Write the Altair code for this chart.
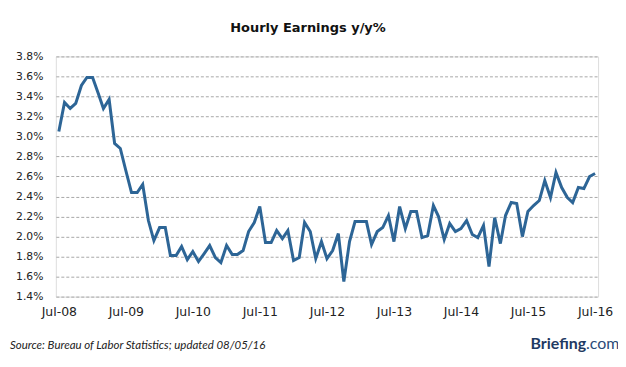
import altair as alt
import pandas as pd

start_month = "2008-07-01"
values = [
    3.05, 3.34, 3.28, 3.33, 3.51, 3.59, 3.59, 3.43, 3.28, 3.37, 2.93, 2.88,   # Jul-08..Jun-09
    2.66, 2.44, 2.44, 2.52, 2.16, 1.96, 2.09, 2.09, 1.81, 1.81, 1.90, 1.77,   # Jul-09..Jun-10
    1.85, 1.75, 1.83, 1.91, 1.79, 1.74, 1.91, 1.82, 1.82, 1.86, 2.05, 2.14,   # Jul-10..Jun-11
    2.30, 1.94, 1.94, 2.06, 1.98, 2.06, 1.76, 1.79, 2.14, 2.05, 1.78, 1.95,   # Jul-11..Jun-12
    1.78, 1.86, 2.03, 1.55, 1.95, 2.15, 2.15, 2.15, 1.92, 2.05, 2.09, 2.21,   # Jul-12..Jun-13
    1.95, 2.30, 2.08, 2.25, 2.25, 1.99, 2.01, 2.31, 2.20, 1.97, 2.13, 2.05,   # Jul-13..Jun-14
    2.08, 2.16, 2.02, 1.99, 2.11, 1.70, 2.19, 1.93, 2.21, 2.34, 2.33, 2.00,   # Jul-14..Jun-15
    2.25, 2.31, 2.36, 2.56, 2.39, 2.64, 2.49, 2.39, 2.34, 2.49, 2.48, 2.60,   # Jul-15..Jun-16
    2.63,                                                                     # Jul-16
]
tick_years = [2008, 2009, 2010, 2011, 2012, 2013, 2014, 2015, 2016]
y_ticks = [1.4, 1.6, 1.8, 2.0, 2.2, 2.4, 2.6, 2.8, 3.0, 3.2, 3.4, 3.6, 3.8]

title_text = "Hourly Earnings y/y%"
source_text = "Source: Bureau of Labor Statistics; updated 08/05/16"
brand_main = "Briefing"
brand_tail = ".com"

dates = pd.date_range(start_month, periods=len(values), freq="MS")
df = pd.DataFrame({"date": dates, "value": values})

W, H = 544, 241

line = alt.Chart(df).mark_line(color="#2d6596", strokeWidth=3, strokeJoin="miter").encode(
    x=alt.X(
        "date:T",
        scale=alt.Scale(nice=False, padding=3),
        axis=alt.Axis(
            values=[alt.DateTime(year=y, month=7, date=1) for y in tick_years],
            format="%b-%y",
            title=None,
            grid=False,
            ticks=False,
            tickSize=0,
            domain=False,
            labelPadding=9,
            labelFont="DejaVu Sans",
            labelFontSize=12.5,
            labelColor="#222222",
        ),
    ),
    y=alt.Y(
        "value:Q",
        scale=alt.Scale(domain=[1.4, 3.8], nice=False, zero=False),
        axis=alt.Axis(
            values=y_ticks,
            labelExpr="format(datum.value, '.1f') + '%'",
            title=None,
            ticks=False,
            tickSize=0,
            domain=False,
            grid=True,
            gridColor="#a8a8a8",
            gridDash=[3, 2],
            gridWidth=1,
            labelPadding=13,
            labelFont="DejaVu Sans",
            labelFontSize=10.8,
            labelColor="#222222",
        ),
    ),
)

title = alt.Chart(pd.DataFrame({"t": [title_text]})).mark_text(
    font="DejaVu Sans", fontSize=13, fontWeight="bold", color="#111111",
    align="center", baseline="alphabetic",
).encode(text="t:N", x=alt.value(253), y=alt.value(-24))

source = alt.Chart(pd.DataFrame({"t": [source_text]})).mark_text(
    font="Lato", fontSize=11.5, fontStyle="italic", color="#222222",
    align="left", baseline="alphabetic",
).encode(text="t:N", x=alt.value(-46), y=alt.value(294))

brand1 = alt.Chart(pd.DataFrame({"t": [brand_main]})).mark_text(
    font="Lato", fontSize=16, fontWeight="bold", color="#1f3a63",
    align="right", baseline="alphabetic",
).encode(text="t:N", x=alt.value(532), y=alt.value(294))

brand2 = alt.Chart(pd.DataFrame({"t": [brand_tail]})).mark_text(
    font="Lato", fontSize=16, color="#2b4a78",
    align="left", baseline="alphabetic",
).encode(text="t:N", x=alt.value(532), y=alt.value(294))

chart = alt.layer(line, title, source, brand1, brand2).properties(
    width=W,
    height=H,
    autosize=alt.AutoSizeParams(type="none"),
    padding={"left": 48, "top": 48, "right": 20, "bottom": 56},
).configure_view(stroke=None).configure(background="white")

chart.save("out.html", embed_options={"renderer": "svg", "actions": False})
